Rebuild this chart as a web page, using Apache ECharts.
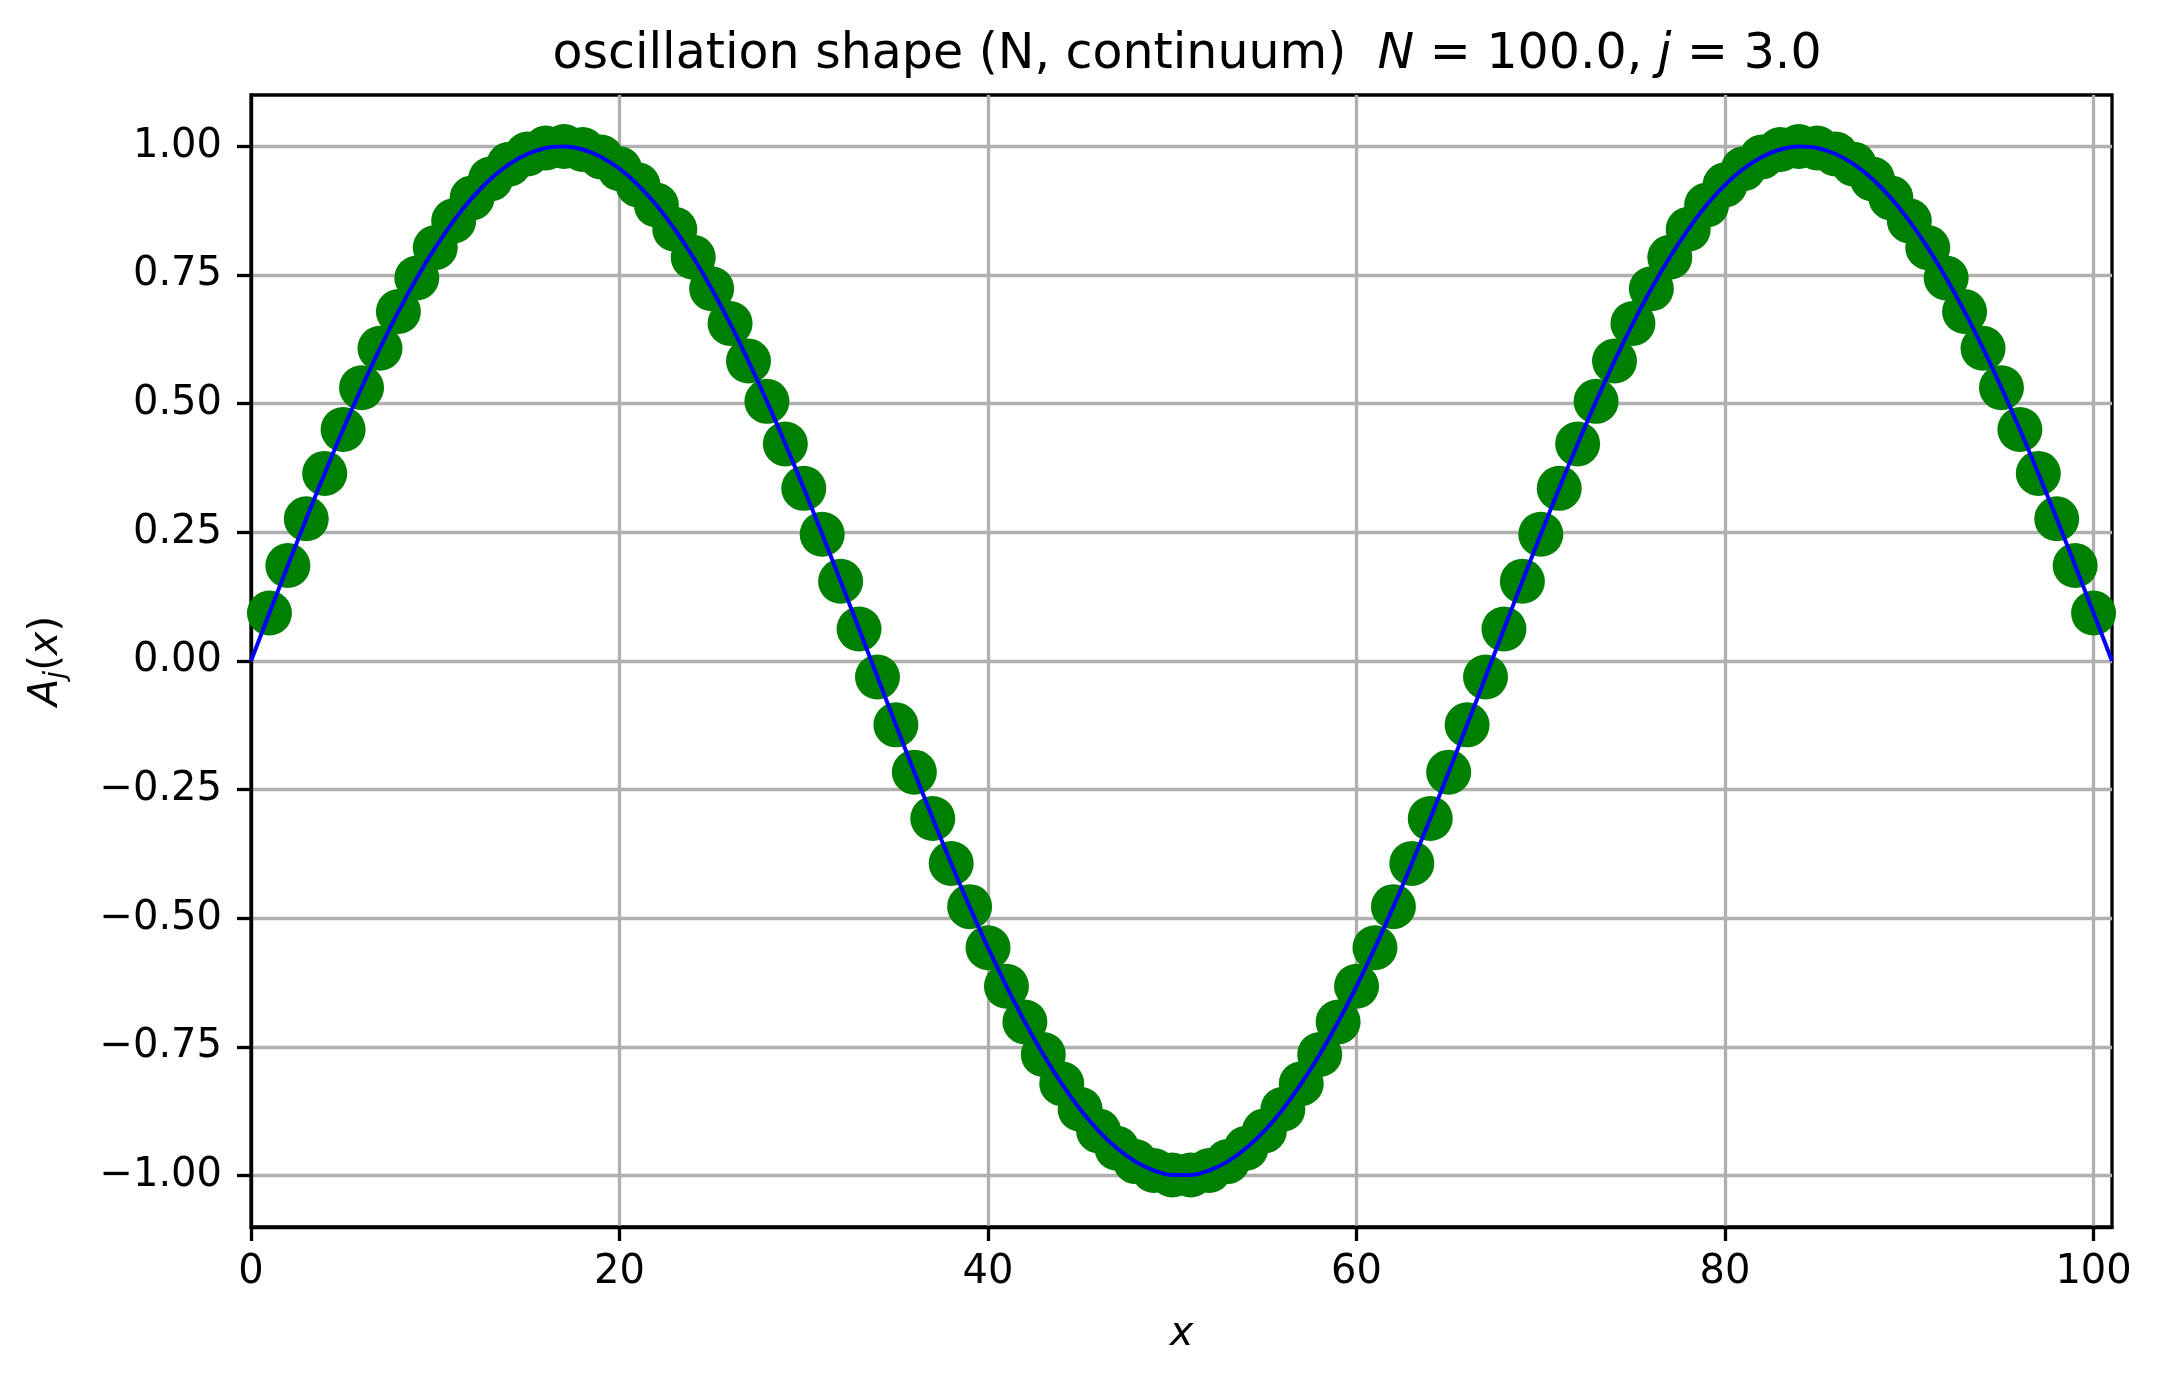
<!DOCTYPE html>
<html>
<head>
<meta charset="utf-8">
<script src="https://cdn.jsdelivr.net/npm/echarts@6/dist/echarts.min.js"></script>
<style>
html,body{margin:0;padding:0;background:#fff;}
#chart{width:2162px;height:1383px;}
</style>
</head>
<body>
<div id="chart"></div>
<script>
// Site positions (discrete chain sites)
const siteX = [1,2,3,4,5,6,7,8,9,10,11,12,13,14,15,16,17,18,19,20,
  21,22,23,24,25,26,27,28,29,30,31,32,33,34,35,36,37,38,39,40,
  41,42,43,44,45,46,47,48,49,50,51,52,53,54,55,56,57,58,59,60,
  61,62,63,64,65,66,67,68,69,70,71,72,73,74,75,76,77,78,79,80,
  81,82,83,84,85,86,87,88,89,90,91,92,93,94,95,96,97,98,99,100];
// Amplitude at each site (green markers)
const siteA = [0.0932,0.1855,0.2763,0.3646,0.4499,0.5311,0.6077,0.6791,0.7445,0.8034,
  0.8554,0.9000,0.9367,0.9653,0.9854,0.9970,0.9999,0.9941,0.9796,0.9567,
  0.9254,0.8861,0.8390,0.7846,0.7235,0.6560,0.5829,0.5046,0.4219,0.3355,
  0.2463,0.1549,0.0622,-0.0311,-0.1241,-0.2160,-0.3061,-0.3934,-0.4774,-0.5572,
  -0.6321,-0.7015,-0.7648,-0.8215,-0.8712,-0.9132,-0.9471,-0.9729,-0.9902,-0.9989,
  -0.9989,-0.9902,-0.9729,-0.9471,-0.9132,-0.8712,-0.8215,-0.7648,-0.7015,-0.6321,
  -0.5572,-0.4774,-0.3934,-0.3061,-0.2160,-0.1241,-0.0311,0.0622,0.1549,0.2463,
  0.3355,0.4219,0.5046,0.5829,0.6560,0.7235,0.7846,0.8390,0.8861,0.9254,
  0.9567,0.9796,0.9941,0.9999,0.9970,0.9854,0.9653,0.9367,0.9000,0.8554,
  0.8034,0.7445,0.6791,0.6077,0.5311,0.4499,0.3646,0.2763,0.1855,0.0932];
// Continuum curve end points (fixed boundaries)
const curveStart = [0, 0];
const curveEnd = [101, 0];
// Tick labels
const xTicks = [0, 20, 40, 60, 80, 100];
const yTicks = [-1.00, -0.75, -0.50, -0.25, 0.00, 0.25, 0.50, 0.75, 1.00];

const FONT = 'DejaVu Sans';
const scatterData = siteX.map((x, i) => [x, siteA[i]]);
const curveData = [curveStart].concat(scatterData, [curveEnd]);

const chart = echarts.init(document.getElementById('chart'), null, {renderer: 'canvas'});
chart.setOption({
  backgroundColor: '#ffffff',
  animation: false,
  title: {
    text: '{n|oscillation shape (N, continuum)  }{i|N}{n| = 100.0, }{i|j}{n| = 3.0}',
    left: 1182, top: 26, textAlign: 'center',
    textStyle: {
      fontWeight: 'normal',
      rich: {
        n: {fontFamily: FONT, fontSize: 49, color: '#000', fontWeight: 'normal'},
        i: {fontFamily: FONT, fontSize: 49, color: '#000', fontWeight: 'normal', fontStyle: 'italic'}
      }
    }
  },
  grid: {
    left: 251, right: 50, top: 95, bottom: 156,
    show: true, borderColor: '#000', borderWidth: 3.3, backgroundColor: 'transparent'
  },
  xAxis: {
    type: 'value', min: 0, max: 101,
    name: 'x', nameLocation: 'middle', nameGap: 88,
    nameTextStyle: {fontFamily: FONT, fontSize: 40, fontStyle: 'italic', color: '#000'},
    axisLine: {show: true, onZero: false, lineStyle: {color: '#000', width: 3.3}},
    axisTick: {show: true, customValues: xTicks, length: 14, lineStyle: {color: '#000', width: 3.3}},
    axisLabel: {customValues: xTicks, margin: 26, fontFamily: FONT, fontSize: 40, color: '#000'},
    splitLine: {show: true, lineStyle: {color: '#b0b0b0', width: 3.3}}
  },
  yAxis: {
    type: 'value', min: -1.1, max: 1.1,
    name: '{i|A}{s|j}{n|(}{i|x}{n|)}', nameLocation: 'middle', nameGap: 180, nameRotate: 90,
    nameTextStyle: {
      rich: {
        i: {fontFamily: FONT, fontSize: 40, fontStyle: 'italic', color: '#000', lineHeight: 48},
        n: {fontFamily: FONT, fontSize: 40, color: '#000', lineHeight: 48},
        s: {fontFamily: FONT, fontSize: 28, fontStyle: 'italic', color: '#000', verticalAlign: 'bottom', lineHeight: 40, padding: [0, 0, 0, 0]}
      }
    },
    axisLine: {show: true, onZero: false, lineStyle: {color: '#000', width: 3.3}},
    axisTick: {show: true, customValues: yTicks, length: 14, lineStyle: {color: '#000', width: 3.3}},
    axisLabel: {
      customValues: yTicks, margin: 29, fontFamily: FONT, fontSize: 40, color: '#000',
      formatter: v => (v < 0 ? '\u2212' : '') + Math.abs(v).toFixed(2)
    },
    splitLine: {show: true, lineStyle: {color: '#b0b0b0', width: 3.3}}
  },
  series: [
    {
      type: 'scatter', data: scatterData, symbol: 'circle', symbolSize: 45,
      itemStyle: {color: '#008000', opacity: 1}, z: 2, clip: true
    },
    {
      type: 'line', data: curveData, showSymbol: false, smooth: 0.35,
      lineStyle: {color: '#0000ff', width: 4}, z: 3, clip: true
    }
  ]
});
</script>
</body>
</html>
